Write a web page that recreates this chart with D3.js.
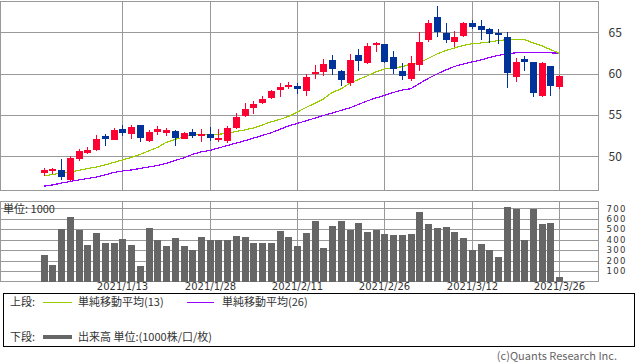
<!DOCTYPE html>
<html><head><meta charset="utf-8">
<script src="https://cdn.jsdelivr.net/npm/d3@7"></script>
<style>
html,body{margin:0;padding:0;background:#fff;}
svg{display:block;font-family:"Noto Sans CJK JP","DejaVu Sans",sans-serif;}
</style></head>
<body>
<svg id="c" width="638" height="362"></svg>
<script>
const dates = ["2020/12/30","2020/12/31","2021/1/4","2021/1/5","2021/1/6","2021/1/7","2021/1/8","2021/1/11","2021/1/12","2021/1/13",
"2021/1/14","2021/1/15","2021/1/19","2021/1/20","2021/1/21","2021/1/22","2021/1/25","2021/1/26","2021/1/27","2021/1/28",
"2021/1/29","2021/2/1","2021/2/2","2021/2/3","2021/2/4","2021/2/5","2021/2/8","2021/2/9","2021/2/10","2021/2/11",
"2021/2/12","2021/2/16","2021/2/17","2021/2/18","2021/2/19","2021/2/22","2021/2/23","2021/2/24","2021/2/25","2021/2/26",
"2021/3/1","2021/3/2","2021/3/3","2021/3/4","2021/3/5","2021/3/8","2021/3/9","2021/3/10","2021/3/11","2021/3/12",
"2021/3/15","2021/3/16","2021/3/17","2021/3/18","2021/3/19","2021/3/22","2021/3/23","2021/3/24","2021/3/25","2021/3/26"];

const open  = [47.94,48.21,48.27,47.06,49.63,50.33,50.71,52.50,52.00,53.23,
52.66,53.77,51.78,52.93,52.81,53.01,52.04,52.87,52.60,52.68,
51.90,51.78,53.41,54.90,55.80,56.41,57.04,57.98,58.33,58.46,
57.88,59.92,60.16,61.69,60.27,58.83,62.18,61.25,63.39,63.54,
61.97,60.28,59.36,60.97,64.11,66.81,64.87,63.87,64.59,66.08,
65.72,65.44,64.87,64.47,59.55,61.73,61.37,57.22,60.85,58.34];
const high  = [48.63,48.63,49.72,50.05,50.81,51.11,52.60,52.66,53.35,53.81,
53.75,53.83,53.17,53.69,53.39,53.17,52.89,53.23,53.23,53.51,
53.23,53.71,55.20,56.40,56.65,57.26,58.03,58.85,58.94,58.85,
59.94,61.00,61.73,62.26,60.45,62.36,63.02,63.66,63.87,63.63,
62.78,61.25,62.06,64.99,66.53,68.14,66.08,65.11,66.20,66.47,
66.53,65.53,65.40,64.99,61.85,62.06,61.39,61.37,60.91,59.76];
const low   = [47.55,47.79,47.12,46.94,49.38,50.21,50.59,51.29,51.90,52.44,
52.04,51.66,51.72,52.62,52.50,51.21,52.02,52.20,51.69,51.78,
51.72,51.60,53.23,54.72,55.08,56.34,56.89,57.13,58.07,57.58,
57.30,59.30,59.64,59.76,58.46,58.55,60.36,61.15,62.58,61.25,
60.00,59.25,59.09,60.36,63.78,64.39,63.66,63.18,64.47,65.40,
64.11,63.69,63.59,58.22,58.95,60.28,57.13,57.13,57.34,58.15];
const close = [48.31,48.45,47.46,49.84,50.59,50.69,52.12,52.08,53.11,52.78,
53.51,52.18,52.90,53.23,53.11,52.14,52.78,52.47,52.65,52.14,
52.18,53.43,54.68,55.65,56.28,56.86,57.94,58.33,58.67,58.10,
59.55,60.16,61.18,60.52,59.25,61.69,61.57,63.30,63.66,61.45,
60.52,59.67,61.33,63.87,66.13,64.99,64.07,64.47,66.13,65.60,
65.32,64.72,64.63,60.04,61.45,61.45,57.62,61.25,58.43,59.64];

const ma13 = [47.61,47.79,47.94,48.09,48.27,48.51,48.69,48.94,49.24,49.54,
49.84,50.21,50.63,51.05,51.66,52.02,52.32,52.59,52.66,52.66,
52.66,52.74,52.99,53.17,53.41,53.77,54.14,54.44,54.80,55.32,
55.89,56.37,56.92,57.70,58.13,58.79,59.27,59.70,60.18,60.57,
60.69,60.81,61.15,61.33,61.81,62.36,62.78,63.08,63.39,63.59,
63.69,63.81,63.99,64.07,64.11,64.11,63.71,63.35,62.90,62.45];
const ma26 = [46.37,46.52,46.74,46.94,47.12,47.30,47.48,47.73,48.03,48.21,
48.33,48.51,48.69,48.88,49.12,49.48,49.78,50.21,50.51,50.69,
50.99,51.29,51.57,51.86,52.18,52.50,52.83,53.23,53.65,53.95,
54.28,54.59,54.92,55.22,55.53,55.83,56.25,56.67,57.04,57.34,
57.70,58.00,58.15,58.79,59.40,59.94,60.42,60.85,61.15,61.39,
61.63,61.93,62.18,62.36,62.50,62.58,62.58,62.54,62.50,62.45];

const volume = [258,161,500,616,494,345,461,365,365,403,
345,152,510,394,335,413,335,297,423,394,
394,394,432,423,365,365,365,481,423,335,
461,577,316,529,577,494,558,471,494,452,
442,442,452,665,548,510,519,471,413,306,
355,306,239,713,694,397,694,548,558,45];

const priceTicks = [50,55,60,65];
const volTicks = [100,200,300,400,500,600,700];
const tickLabels = ["2021/1/13","2021/1/28","2021/2/11","2021/2/26","2021/3/12","2021/3/26"];

const svg = d3.select("#c");
const GRID = "#999999";
const L = 0.5, R = 598.5;
const x = d3.scaleLinear().domain([-4.95, 63.5]).range([L, R]);
const xi = d => x(dates.indexOf(d));
const px = d => Math.round(xi(d));

// ---------- upper panel ----------
const yP = d3.scaleLinear().domain([45.85, 68.71]).range([190.5, 1.5]);
const up = svg.append("g");
up.append("rect").attr("x", L).attr("y", 1.5).attr("width", R - L).attr("height", 189)
  .attr("fill", "none").attr("stroke", GRID);
up.selectAll("line.hg").data(priceTicks).join("line")
  .attr("x1", L).attr("x2", R)
  .attr("y1", d => Math.round(yP(d)) + 0.5).attr("y2", d => Math.round(yP(d)) + 0.5)
  .attr("stroke", GRID);
up.selectAll("line.vg").data(tickLabels).join("line")
  .attr("x1", d => px(d) + 0.5).attr("x2", d => px(d) + 0.5)
  .attr("y1", 1.5).attr("y2", 190.5).attr("stroke", GRID);

const yAxisP = d3.axisRight(yP).tickValues(priceTicks).tickSize(0).tickPadding(0);
const ga = svg.append("g").attr("transform", `translate(${R + 10},0)`).call(yAxisP);
ga.select(".domain").remove();
ga.selectAll("text").attr("font-size", 12).attr("fill", "#333").attr("font-family", '"Noto Sans CJK JP",sans-serif');

// MA lines
const mline = arr => d3.line().x((d, i) => xi(dates[i])).y(d => yP(d))(arr);
svg.append("path").attr("d", mline(ma26)).attr("fill", "none").attr("stroke", "#9900ff")
  .attr("stroke-width", 1.2).attr("shape-rendering", "crispEdges");
svg.append("path").attr("d", mline(ma13)).attr("fill", "none").attr("stroke", "#99cc00")
  .attr("stroke-width", 1.2).attr("shape-rendering", "crispEdges");

// candles
const RED = "#ff0033", BLUE = "#003399";
const cg = svg.append("g").attr("shape-rendering", "crispEdges");
dates.forEach((d, i) => {
  const cx = px(d);
  const col = close[i] >= open[i] ? RED : BLUE;
  cg.append("line").attr("x1", cx + 0.5).attr("x2", cx + 0.5)
    .attr("y1", yP(high[i])).attr("y2", yP(low[i])).attr("stroke", col).attr("stroke-width", 1);
  const top = yP(Math.max(open[i], close[i])), bot = yP(Math.min(open[i], close[i]));
  cg.append("rect").attr("x", cx - 3).attr("width", 7)
    .attr("y", top).attr("height", Math.max(1.5, bot - top)).attr("fill", col);
});

// ---------- volume panel ----------
const yV = d3.scaleLinear().domain([0, 765]).range([281.5, 201.5]);
const vp = svg.append("g");
vp.selectAll("line.hg").data(volTicks).join("line")
  .attr("x1", L).attr("x2", R)
  .attr("y1", d => Math.round(yV(d)) + 0.5).attr("y2", d => Math.round(yV(d)) + 0.5)
  .attr("stroke", GRID);
vp.selectAll("line.vg").data(tickLabels).join("line")
  .attr("x1", d => px(d) + 0.5).attr("x2", d => px(d) + 0.5)
  .attr("y1", 201.5).attr("y2", 281.5).attr("stroke", GRID);
vp.append("rect").attr("x", L).attr("y", 201.5).attr("width", R - L).attr("height", 80)
  .attr("fill", "none").attr("stroke", GRID);
vp.append("g").attr("shape-rendering", "crispEdges").selectAll("rect").data(volume).join("rect")
  .attr("x", (d, i) => px(dates[i]) - 3).attr("width", 7)
  .attr("y", d => yV(d)).attr("height", d => yV(0) - yV(d)).attr("fill", "#666666");

const yAxisV = d3.axisRight(yV).tickValues(volTicks).tickSize(0).tickPadding(0);
const gv = svg.append("g").attr("transform", `translate(${R + 8},0)`).call(yAxisV);
gv.select(".domain").remove();
gv.selectAll("text").attr("font-size", 8.6).attr("letter-spacing", 1.3).attr("fill", "#333")
  .attr("font-family", '"DejaVu Sans",sans-serif');

svg.append("text").attr("x", 3).attr("y", 213).attr("font-size", 11).attr("fill", "#333")
  .text("単位: 1000");

// x axis labels
const gx = svg.append("g");
gx.selectAll("text").data(tickLabels).join("text")
  .attr("x", d => px(d) + 0.5).attr("y", 290).attr("text-anchor", "middle")
  .attr("font-family", '"DejaVu Sans",sans-serif')
  .attr("font-size", 10).attr("fill", "#333").text(d => d);

// ---------- legend ----------
const lg = svg.append("g");
lg.append("rect").attr("x", 3.5).attr("y", 293.5).attr("width", 631).attr("height", 53)
  .attr("fill", "none").attr("stroke", "#000");
lg.append("text").attr("x", 10).attr("y", 306).attr("font-size", 11).attr("fill", "#333").text("上段:");
lg.append("line").attr("x1", 43).attr("x2", 72).attr("y1", 302.5).attr("y2", 302.5).attr("stroke", "#99cc00");
lg.append("text").attr("x", 78).attr("y", 306).attr("font-size", 11).attr("fill", "#333").text("単純移動平均(13)");
lg.append("line").attr("x1", 187).attr("x2", 214).attr("y1", 302.5).attr("y2", 302.5).attr("stroke", "#9900ff");
lg.append("text").attr("x", 222).attr("y", 306).attr("font-size", 11).attr("fill", "#333").text("単純移動平均(26)");
lg.append("text").attr("x", 10).attr("y", 341).attr("font-size", 11).attr("fill", "#333").text("下段:");
lg.append("line").attr("x1", 43).attr("x2", 72).attr("y1", 337).attr("y2", 337).attr("stroke", "#666").attr("stroke-width", 4);
lg.append("text").attr("x", 78).attr("y", 341).attr("font-size", 11).attr("fill", "#333").text("出来高 単位:(1000株/口/枚)");

svg.append("text").attr("x", 617).attr("y", 360).attr("text-anchor", "end").attr("font-size", 11)
  .attr("fill", "#666").text("(c)Quants Research Inc.");
</script>
</body></html>
